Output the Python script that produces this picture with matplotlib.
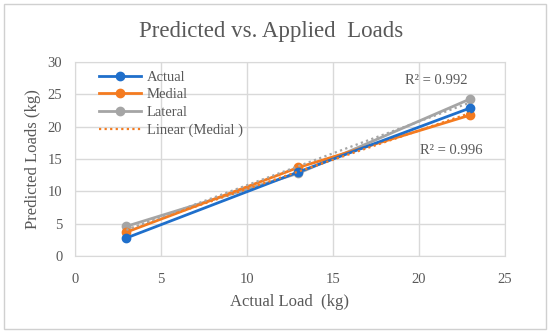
import numpy as np
import matplotlib
matplotlib.use("Agg")
import matplotlib.pyplot as plt
from matplotlib.patches import Rectangle

plt.rcParams['font.family'] = ['Liberation Serif', 'DejaVu Serif']

actual_load = [3, 13, 23]
actual = [2.8, 13.0, 22.9]
medial = [3.7, 13.7, 21.8]
lateral = [4.6, 12.8, 24.3]
r2_labels = ["R² = 0.992", "R² = 0.996"]

c_blue = '#1F6FCB'
c_orange = '#F47B20'
c_gray = '#A5A5A5'
c_text = '#595959'
c_grid = '#D9D9D9'

fig = plt.figure(figsize=(5.5, 3.33), dpi=100)
fig.patches.append(Rectangle((0.008, 0.012), 0.984, 0.976, transform=fig.transFigure,
                             fill=False, edgecolor='#D0D0D0', linewidth=1.0))
ax = fig.add_axes([0.136, 0.231, 0.782, 0.583])

ax.plot(actual_load, actual, color=c_blue, lw=2.0, marker='o', ms=6, label='Actual', zorder=4)
ax.plot(actual_load, medial, color=c_orange, lw=2.0, marker='o', ms=6, label='Medial', zorder=3)
ax.plot(actual_load, lateral, color=c_gray, lw=2.0, marker='o', ms=6, label='Lateral', zorder=2)

x = np.array(actual_load, dtype=float)
pm = np.polyfit(x, medial, 1)
pl = np.polyfit(x, lateral, 1)
ax.plot(x, np.polyval(pm, x), color=c_orange, lw=1.6, ls=(0, (1, 1.5)), label='Linear (Medial )', zorder=5)
ax.plot(x, np.polyval(pl, x), color=c_gray, lw=1.6, ls=(0, (1, 1.5)), zorder=5)

ax.set_xlim(0, 25)
ax.set_ylim(0, 30)
ax.set_xticks(range(0, 26, 5))
ax.set_yticks(range(0, 31, 5))
ax.grid(True, color=c_grid, lw=1.0)
ax.set_axisbelow(True)
for s in ax.spines.values():
    s.set_color(c_grid)
ax.tick_params(axis='x', length=0, labelsize=10.5, colors=c_text, pad=12)
ax.tick_params(axis='y', length=0, labelsize=10.5, colors=c_text, pad=9)

ax.text(21.0, 27.2, r2_labels[0], fontsize=10.5, color=c_text, ha='center', va='center')
ax.text(21.9, 16.3, r2_labels[1], fontsize=10.5, color=c_text, ha='center', va='center')

fig.text(0.493, 0.905, 'Predicted vs. Applied  Loads', fontsize=16.5, color=c_text,
         ha='center', va='center')
ax.set_xlabel('Actual Load  (kg)', fontsize=12, color=c_text, labelpad=6)
ax.set_ylabel('Predicted Loads (kg)', fontsize=12, color=c_text, labelpad=5)

leg = ax.legend(loc='upper left', frameon=False, fontsize=10.5, labelcolor=c_text,
                handlelength=2.9, handletextpad=0.4, borderaxespad=0.2,
                labelspacing=0.3, bbox_to_anchor=(0.035, 1.0))

fig.savefig('out.png', dpi=100)
